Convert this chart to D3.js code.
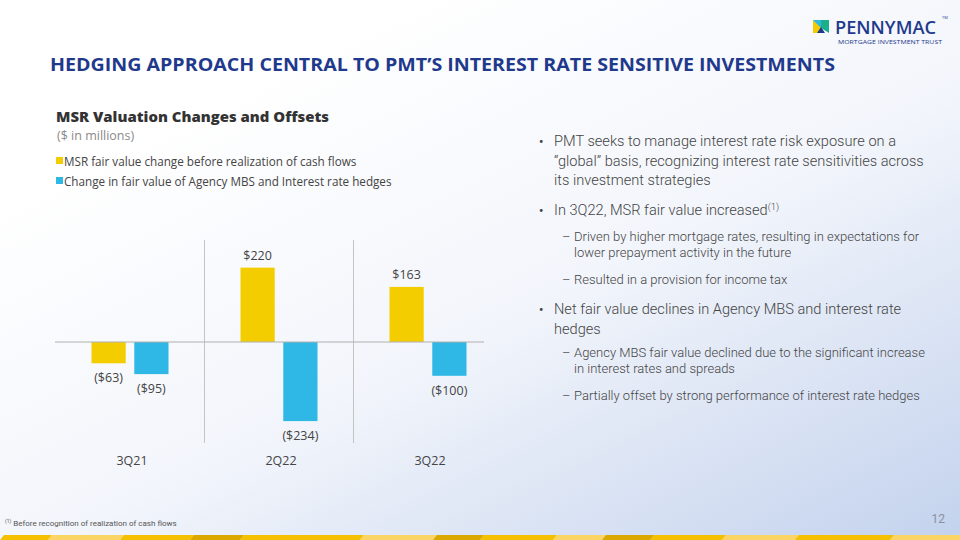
<!DOCTYPE html>
<html><head><meta charset="utf-8">
<script src="https://cdn.jsdelivr.net/npm/d3@7"></script>
<style>
html,body{margin:0;padding:0;background:#fff;}
svg{display:block;}
</style></head>
<body>
<svg id="c" width="960" height="540"></svg>
<script>
const categories = ["3Q21", "2Q22", "3Q22"];
const seriesNames = ["MSR fair value change before realization of cash flows",
                     "Change in fair value of Agency MBS and Interest rate hedges"];
const msrValues = [-63, 220, 163];
const hedgeValues = [-95, -234, -100];
const seriesColors = ["#F4CD00", "#2FB8E6"];

const svg = d3.select("#c");
const defs = svg.append("defs");
const g1 = defs.append("linearGradient").attr("id","bg").attr("x1","0.25").attr("y1","0.15").attr("x2","1").attr("y2","1");
g1.append("stop").attr("offset","0").attr("stop-color","#ffffff");
g1.append("stop").attr("offset","0.45").attr("stop-color","#f2f5fb");
g1.append("stop").attr("offset","1").attr("stop-color","#c3d2ed");
svg.append("rect").attr("width",960).attr("height",540).attr("fill","url(#bg)");

// Title
svg.append("text").attr("x",50).attr("y",71)
  .attr("font-family","'Open Sans', sans-serif").attr("font-weight",700).attr("font-size",17)
  .attr("fill","#1f3a8c").attr("textLength",785).attr("lengthAdjust","spacingAndGlyphs")
  .text("HEDGING APPROACH CENTRAL TO PMT\u2019S INTEREST RATE SENSITIVE INVESTMENTS");

// Logo
const logo = svg.append("g");
logo.append("polygon").attr("points","813,20 821,20 821,33 813,33").attr("fill","#F4CD00");
logo.append("polygon").attr("points","813,20 829,20 821,28").attr("fill","#2FB8E6");
logo.append("polygon").attr("points","821,20 829,20 829,33 821,28").attr("fill","#1bb08a");
logo.append("polygon").attr("points","817,33 821,27 825,33").attr("fill","#1f3a8c");
logo.append("text").attr("x",835).attr("y",34).attr("font-family","'Open Sans', sans-serif")
  .attr("font-size",18).attr("font-weight",600).attr("fill","#1f3a8c").attr("textLength",101).attr("lengthAdjust","spacingAndGlyphs").text("PENNYMAC");
logo.append("text").attr("x",942).attr("y",19).attr("font-family","'Open Sans', sans-serif")
  .attr("font-size",4).attr("fill","#1f3a8c").text("TM");
logo.append("text").attr("x",838).attr("y",44).attr("font-family","'Open Sans', sans-serif")
  .attr("font-size",5.5).attr("fill","#1f3a8c").attr("textLength",104).attr("lengthAdjust","spacingAndGlyphs").text("MORTGAGE INVESTMENT TRUST");

// Chart title and legend
svg.append("text").attr("x",56).attr("y",122).attr("font-family","'Open Sans', sans-serif")
  .attr("font-weight",800).attr("font-size",14.5).attr("fill","#333").attr("textLength",273).attr("lengthAdjust","spacingAndGlyphs")
  .text("MSR Valuation Changes and Offsets");
svg.append("text").attr("x",57).attr("y",140).attr("font-family","'Open Sans', sans-serif")
  .attr("font-size",12.5).attr("fill","#8a8a8a").text("($ in millions)");
const leg = svg.append("g");
seriesNames.forEach((s,i)=>{
  const y = 161 + i*20;
  leg.append("rect").attr("x",56).attr("y",y-4).attr("width",7).attr("height",7).attr("fill",seriesColors[i]);
  leg.append("text").attr("x",64).attr("y",y+4.5).attr("font-family","'Open Sans', sans-serif")
    .attr("font-size",11.7).attr("fill","#444").text(s);
});

// Chart
const x0 = d3.scaleBand().domain(categories).range([55.5, 502.5]).padding(0);
const x1 = d3.scaleBand().domain([0,1]).range([36, 113]).paddingInner(0.2);
const y = d3.scaleLinear().domain([-250, 250]).range([426.5, 257.5]);

const chart = svg.append("g");
categories.slice(1).forEach(c=>{
  chart.append("line").attr("x1",x0(c)).attr("x2",x0(c)).attr("y1",240).attr("y2",443)
    .attr("stroke","#c4c4c4").attr("stroke-width",1);
});
const data = [];
categories.forEach((c,ci)=>{
  [msrValues[ci], hedgeValues[ci]].forEach((v,si)=>data.push({c, si, v}));
});
chart.selectAll("rect.bar").data(data).enter().append("rect").attr("class","bar")
  .attr("x", d=>x0(d.c)+x1(d.si)).attr("width", x1.bandwidth())
  .attr("y", d=>Math.min(y(d.v), y(0))).attr("height", d=>Math.abs(y(d.v)-y(0)))
  .attr("fill", d=>seriesColors[d.si]);
chart.append("line").attr("x1",55).attr("x2",484).attr("y1",y(0)).attr("y2",y(0))
  .attr("stroke","#b0b0b0").attr("stroke-width",1.2);
const fmt = v => v < 0 ? "($" + Math.abs(v) + ")" : "$" + v;
chart.selectAll("text.val").data(data).enter().append("text").attr("class","val")
  .attr("x", d=>x0(d.c)+x1(d.si)+x1.bandwidth()/2)
  .attr("y", d=> d.v>=0 ? y(d.v)-8 : y(d.v)+19)
  .attr("text-anchor","middle").attr("font-family","'Open Sans', sans-serif")
  .attr("font-size",12.5).attr("fill","#444").text(d=>fmt(d.v));
const xAxis = chart.append("g").attr("transform","translate(2,0)");
categories.forEach(c=>{
  xAxis.append("text").attr("x",x0(c)+x0.bandwidth()/2).attr("y",465).attr("text-anchor","middle")
    .attr("font-family","'Open Sans', sans-serif").attr("font-size",12.5).attr("fill","#444").text(c);
});

// Bullets
const bf = "Roboto, sans-serif";
const bullets = [
  {lvl:0, lines:["PMT seeks to manage interest rate risk exposure on a","\u201Cglobal\u201D basis, recognizing interest rate sensitivities across","its investment strategies"], y:146},
  {lvl:0, lines:["In 3Q22, MSR fair value increased"], sup:"(1)", y:215},
  {lvl:1, lines:["Driven by higher mortgage rates, resulting in expectations for","lower prepayment activity in the future"], y:241},
  {lvl:1, lines:["Resulted in a provision for income tax"], y:284},
  {lvl:0, lines:["Net fair value declines in Agency MBS and interest rate","hedges"], y:314},
  {lvl:1, lines:["Agency MBS fair value declined due to the significant increase","in interest rates and spreads"], y:357},
  {lvl:1, lines:["Partially offset by strong performance of interest rate hedges"], y:400}
];
const bg = svg.append("g").attr("font-family",bf).attr("font-weight",300).attr("fill","#444");
bullets.forEach(b=>{
  const lh = b.lvl===0 ? 19.5 : 16;
  const fs = b.lvl===0 ? 14.6 : 13;
  const tx = b.lvl===0 ? 554 : 574;
  bg.append("text").attr("x", b.lvl===0 ? 539 : 562).attr("y", b.y).attr("font-size", b.lvl===0 ? 12 : 13)
    .attr("font-weight", b.lvl===0 ? 700 : 300).text(b.lvl===0 ? "\u2022" : "\u2013");
  b.lines.forEach((l,i)=>{
    const t = bg.append("text").attr("x",tx).attr("y",b.y + i*lh).attr("font-size",fs).text(l);
    if (b.sup && i===b.lines.length-1) {
      t.append("tspan").attr("font-size",9.5).attr("dy",-5).text(b.sup);
    }
  });
});

// Footnote and page number
const fn = svg.append("text").attr("x",5).attr("y",526).attr("font-family",bf).attr("font-size",8).attr("fill","#555");
fn.append("tspan").attr("font-size",5).attr("dy",-3).text("(1)");
fn.append("tspan").attr("dy",3).text(" Before recognition of realization of cash flows");
svg.append("text").attr("x",945).attr("y",523).attr("text-anchor","end").attr("font-family",bf)
  .attr("font-size",12).attr("fill","#8a8fa0").text("12");

// bottom decorative strip
const strip = [
  [0,48,"#F5C000"],[48,120,"#FAD564"],[120,190,"#F5C000"],[190,240,"#DAA800"],[240,360,"#F5C000"],
  [360,433,"#FAD564"],[433,480,"#DAA800"],[480,553,"#F5C000"],[553,602,"#FAD564"],[602,650,"#DAA800"],
  [650,722,"#F5C000"],[722,795,"#FAD564"],[795,890,"#F5C000"],[890,960,"#FAD564"]
];
svg.append("g").selectAll("polygon").data(strip).enter().append("polygon")
  .attr("points", d=>`${d[0]},540 ${d[0]+4},535 ${d[1]+4},535 ${d[1]},540`)
  .attr("fill", d=>d[2]);
</script>
</body></html>
